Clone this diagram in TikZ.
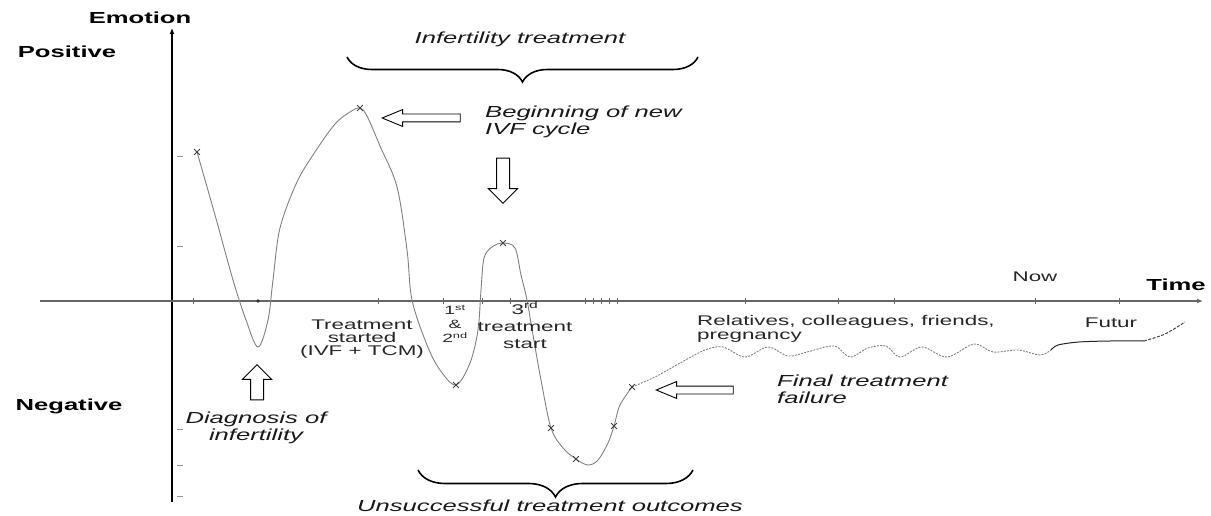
\documentclass[tikz,border=0pt]{standalone}
\usepackage{fontspec}
\newfontfamily\lab[FakeStretch=1.6]{Liberation Sans}
\usetikzlibrary{shapes.arrows,shapes.misc,decorations.pathreplacing,arrows.meta}
\begin{document}
\begin{tikzpicture}[x=1pt,y=-1pt,
  lbl/.style={font=\lab\fontsize{14}{14}\selectfont, text=black!85, inner sep=0, align=center},
  small/.style={font=\lab\fontsize{12}{15}\selectfont, text=black!85, inner sep=0, align=center},
  ital/.style={font=\lab\itshape\fontsize{16}{17}\selectfont, text=black!90, inner sep=0},
  bld/.style={font=\lab\bfseries\fontsize{16}{16}\selectfont, text=black, inner sep=0},
  curve/.style={draw=black!50, line width=0.9pt},
  xmk/.style={cross out, draw=black!75, line width=0.8pt, minimum size=5pt, inner sep=0pt},
  vblk/.style={single arrow, draw=black, fill=white, line width=1pt, inner sep=6pt,
    single arrow head extend=8pt, single arrow tip angle=90, minimum height=#1},
  hblk/.style={single arrow, draw=black, fill=white, line width=0.9pt, inner sep=3.5pt,
    single arrow head extend=4.5pt, single arrow tip angle=45, minimum height=#1},
  brc/.style={decorate, decoration={brace, mirror, amplitude=#1}, line width=1.6pt}
]
\useasboundingbox (0,0) rectangle (1211,516);

% axes
\coordinate (yb) at (172,502);
\coordinate (yt) at (172,28);
\draw[line width=1.6pt, -{Latex[length=6pt,width=5pt]}] (yb) -- (yt);
\coordinate (xl) at (40,301);
\coordinate (xr) at (1203,301);
\draw[line width=1.2pt, black!60, -{Latex[length=6pt,width=5pt]}] (xl) -- (xr);
\foreach \x in {193,378,443,482,510,585,593,601,609,617,745,838,894,1035,1119}
  \draw[black!60, line width=0.8pt] (\x,298) -- (\x,304);
\fill[black!80] (258,301) circle (1.8pt);
\foreach \y in {156,246,429,465,496}
  \draw[black!40, line width=0.8pt] (177,\y) -- (183,\y);

% axis labels
\node[bld] (emo) at (140,18) {Emotion};
\node[bld] (pos) at (67,52) {Positive};
\node[bld] (neg) at (69,406) {Negative};
\node[bld] (time) at (1176,285) {Time};
\node[lbl] (now) at (1035,277) {Now};
\node[lbl] (fut) at (1111,323) {Futur};

% curve
\draw[curve] plot[smooth, tension=0.55] coordinates {
 (197,152) (215,215) (233,280) (246,320) (258,347) (268,320) (273,280) (280,228)
 (297,182) (315,152) (335,124) (350,112) (360,108) (367,116) (380,146) (397,187)
 (407,250) (412,300) (427,345)
 (440,370) (456,385) (470,363) (478,330) (481,290) (484,258) (492,247) (503,243)
 (515,248) (521,275) (527,300) (533,335) (541,380) (551,428) (563,448) (576,459)
 (588,465) (598,460) (608,443) (614,426) (620,405) (632,387)};
\draw[curve, dash pattern=on 2pt off 1.2pt] plot[smooth, tension=0.55] coordinates {
 (632,387) (655,377) (680,363) (705,350) (723,347) (745,357) (768,347) (788,356)
 (807,352) (834,346) (850,357) (868,348) (886,346) (900,357) (922,347) (947,357)
 (974,344) (993,352) (1018,350) (1040,355) (1051,350)};
\draw[black!85, line width=1pt] plot[smooth, tension=0.5] coordinates {
 (1051,350) (1058,345) (1079,342) (1110,341) (1144,341)};
\draw[black!75, line width=1pt, dash pattern=on 3pt off 1.5pt] plot[smooth, tension=0.5] coordinates {
 (1144,341) (1165,334) (1185,322)};

% marks
\node[xmk] (m1) at (197,152) {};
\node[xmk] (m2) at (360,108) {};
\node[xmk] (m3) at (456,385) {};
\node[xmk] (m4) at (503,243) {};
\node[xmk] (m5) at (551,428) {};
\node[xmk] (m6) at (576,459) {};
\node[xmk] (m7) at (614,426) {};
\node[xmk] (m8) at (632,387) {};

% braces
\coordinate (b1l) at (347,57);
\coordinate (b1r) at (698,57);
\draw[brc=25pt] (b1l) -- (b1r);
\coordinate (b2l) at (418,470);
\coordinate (b2r) at (693,470);
\draw[brc=27pt] (b2l) -- (b2r);

% block arrows
\node[vblk=35pt, shape border rotate=90] (aup) at (257,385.5) {};
\node[vblk=45pt, shape border rotate=270] (adown) at (503,177.5) {};
\node[hblk=78pt, shape border rotate=180] (abeg) at (426,118) {};
\node[hblk=77pt, shape border rotate=180] (afin) at (699.5,390) {};

% italic labels
\node[ital] (inf) at (520,39) {Infertility treatment};
\node[ital, anchor=west, align=left] (beg) at (485,122) {Beginning of new\\IVF cycle};
\node[ital, align=center] (diag) at (256,428) {Diagnosis of\\infertility};
\node[ital, anchor=west, align=left] (fin) at (777,389.5) {Final treatment\\failure};
\node[ital] (uns) at (550,506) {Unsuccessful treatment outcomes};

% time labels
\node[lbl, font=\lab\fontsize{14}{13}\selectfont] (ts) at (362,339) {Treatment\\started\\(IVF + TCM)};
\node[small, font=\lab\fontsize{12}{14}\selectfont] (t12) at (455,324) {1\textsuperscript{st}\\\&\\2\textsuperscript{nd}};
\node[lbl, font=\lab\fontsize{14}{17}\selectfont] (t3) at (525,325) {3\textsuperscript{rd}\\treatment\\start};
\node[lbl, anchor=west, align=left] (rel) at (697,329) {Relatives, colleagues, friends,\\pregnancy};
\end{tikzpicture}
\end{document}
